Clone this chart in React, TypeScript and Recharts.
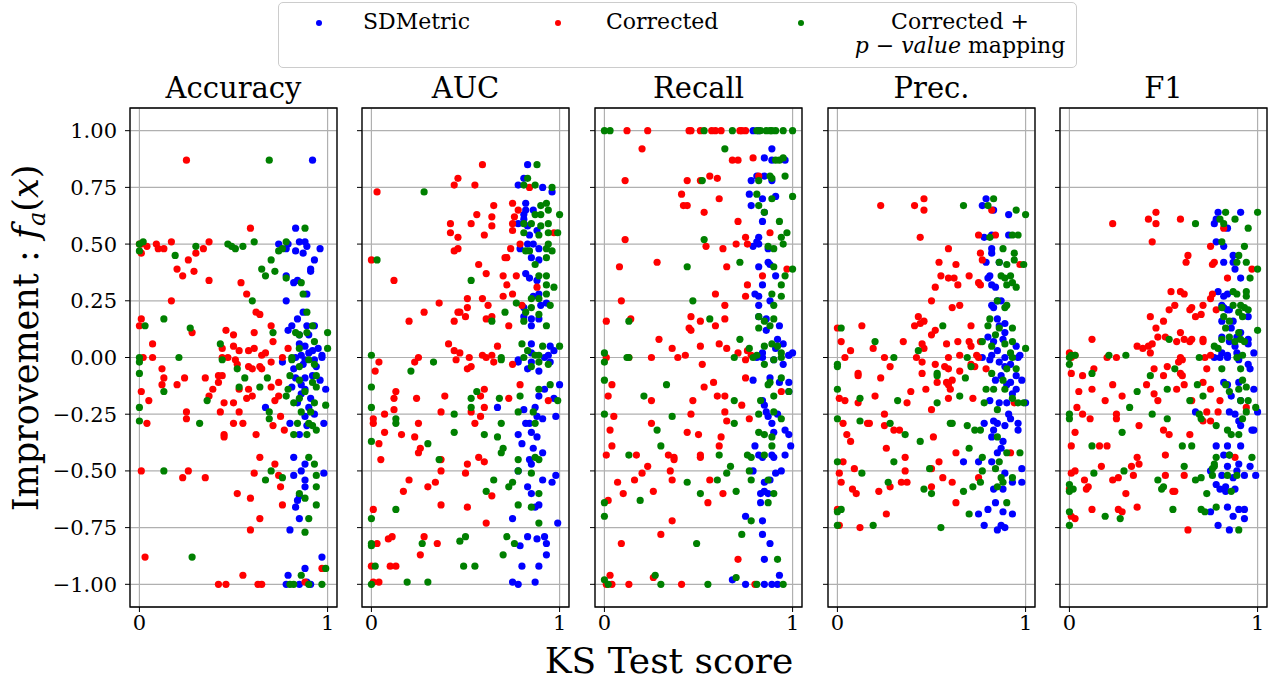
import { ScatterChart, Scatter, XAxis, YAxis, CartesianGrid, ReferenceArea, Legend } from 'recharts'

type Pt = [number, number]

// KS test score (x) vs improvement f_a(x) (y), one list per metric and method

const accSdm: Pt[] = [
  [0.92, 0.87], [0.83, 0.57], [0.74, 0.5], [0.78, 0.48], [0.79, 0.5], [0.85, 0.51], [0.83, 0.47], [0.88, 0.51],
  [0.89, 0.49], [0.87, 0.46], [0.96, 0.48], [0.93, 0.43], [0.91, 0.39], [0.91, 0.38], [0.78, 0.36], [0.82, 0.33],
  [0.84, 0.34], [0.89, 0.28], [0.78, 0.25], [0.87, 0.2], [0.84, 0.17], [0.81, 0.14], [0.89, 0.14], [0.79, 0.12],
  [0.85, 0.1], [0.9, 0.1], [0.93, 0.14], [0.88, 0.05], [0.95, 0.04], [0.92, 0.03], [0.97, 0.01], [0.83, 0],
  [0.86, 0.01], [0.85, 0.06], [0.9, 0.02], [0.94, -0.04], [0.87, -0.03], [0.92, -0.08], [0.96, -0.1],
  [0.84, -0.2], [0.9, -0.22], [0.93, -0.25], [0.86, -0.12],
  [0.76, -0.02], [0.82, -0.05], [0.88, -0.01], [0.93, -0.01], [0.97, 0], [0.83, -0.09], [0.88, -0.09],
  [0.81, -0.13], [0.88, -0.14], [0.99, -0.14], [0.86, -0.16], [0.91, -0.18], [0.67, -0.22], [0.8, -0.29],
  [0.88, -0.26], [0.89, -0.3], [0.98, -0.29], [0.85, -0.34], [0.82, -0.44], [0.88, -0.47], [0.86, -0.5],
  [0.98, -0.51], [0.82, -0.52], [0.88, -0.54], [0.88, -0.57], [0.85, -0.61], [0.84, -0.63], [0.83, -0.66],
  [0.85, -0.71], [0.8, -0.76], [0.97, -0.88], [0.88, -0.93], [0.79, -0.96], [0.78, -1], [0.85, -1],
  [0.89, -0.99], [0.91, -1],
]
const accCor: Pt[] = [
  [0.25, 0.87], [0.59, 0.57], [0, 0.5], [0.01, 0.5], [0.04, 0.49], [0.01, 0.46], [0.09, 0.5], [0.1, 0.48],
  [0.13, 0.48], [0.17, 0.51], [0.34, 0.48], [0.3, 0.46], [0.37, 0.51], [0.26, 0.43], [0.2, 0.39], [0.23, 0.36],
  [0.29, 0.38], [0.37, 0.34], [0.17, 0.25], [0.54, 0.33], [0.57, 0.28], [0.62, 0.2], [0.64, 0.19], [0.7, 0.14],
  [0.01, 0.17], [0, 0.14], [0.28, 0.11], [0.07, 0.06], [0.46, 0.12], [0.5, 0.1], [0.5, 0.05], [0.53, 0.03],
  [0.58, 0.03], [0.61, 0.04], [0.61, 0.11], [0.71, 0.07], [0.44, 0.04], [0.44, 0], [0.65, 0.01], [0.67, 0.02],
  [0.76, 0], [0.79, 0.04], [0.02, 0], [0.07, 0], [0.47, 0],
  [0.12, -0.05], [0.13, -0.09], [0.12, -0.12], [0.01, -0.15], [0.05, -0.19], [0.2, -0.12], [0.24, -0.09],
  [0.35, -0.09], [0.42, -0.08], [0.44, -0.08], [0.42, -0.11], [0.39, -0.14], [0.37, -0.17], [0.45, -0.2],
  [0.5, -0.2], [0.53, -0.24], [0.43, -0.24], [0.25, -0.24], [0.25, -0.27], [0.04, -0.29], [0.5, -0.29],
  [0.55, -0.29], [0.45, -0.34], [0.45, -0.35], [0.62, -0.34], [0.51, -0.01], [0.52, -0.03], [0.58, -0.04],
  [0.6, -0.05], [0.53, -0.14], [0.58, -0.14], [0.6, -0.17], [0.57, -0.18], [0.64, -0.04], [0.65, -0.05],
  [0.7, -0.02], [0.7, -0.13], [0.74, -0.11], [0.74, -0.17], [0.72, -0.19], [0.75, -0.26], [0.71, -0.3],
  [0.77, -0.32], [0.01, -0.5], [0.26, -0.5], [0.23, -0.53], [0.35, -0.53], [0.61, -0.51], [0.64, -0.44],
  [0.72, -0.47], [0.74, -0.52], [0.75, -0.57], [0.76, -0.65], [0.52, -0.6], [0.59, -0.62], [0.64, -0.71],
  [0.59, -0.76], [0.03, -0.88], [0.55, -0.96], [0.42, -1], [0.46, -1], [0.63, -1], [0.65, -1], [0.88, -0.99],
  [0.97, -0.93],
]
const accPval: Pt[] = [
  [0.69, 0.87], [0.88, 0.57], [0, 0.5], [0.02, 0.51], [0, 0.47], [0.19, 0.45], [0.3, 0.49], [0.47, 0.5],
  [0.49, 0.49], [0.51, 0.48], [0.55, 0.49], [0.61, 0.51], [0.7, 0.43], [0.65, 0.39], [0.67, 0.36], [0.72, 0.38],
  [0.78, 0.51], [0.76, 0.48], [0.74, 0.47], [0.78, 0.35], [0.86, 0.33], [0.87, 0.28], [0.6, 0.25], [0.89, 0.2],
  [0.13, 0.17], [0.03, 0.14], [0.27, 0.13], [0.43, 0.06], [0.71, 0.11], [0.83, 0.11], [0.85, 0.1], [0.89, 0.11],
  [0.92, 0.14], [0.93, 0.07], [1, 0.11], [1, 0.04], [0.81, 0], [0.85, 0.04], [0.21, 0], [0, 0],
  [0, -0.02], [0.44, -0.01], [0, -0.07], [0.13, -0.15], [0, -0.22], [0, -0.28], [0.32, -0.29], [0.36, -0.19],
  [0.52, -0.05], [0.56, -0.09], [0.53, -0.13], [0.64, -0.13], [0.68, -0.09], [0.69, -0.24], [0.69, -0.27],
  [0.79, -0.14], [0.78, -0.17], [0.81, -0.01], [0.85, -0.04], [0.9, -0.01], [0.93, -0.03], [0.94, -0.08],
  [0.8, -0.08], [0.85, -0.1], [0.92, -0.11], [0.94, -0.13], [0.88, -0.15], [0.85, -0.18], [0.82, -0.2],
  [0.93, -0.2], [0.99, -0.21], [0.86, -0.24], [0.91, -0.24], [0.84, -0.29], [0.9, -0.29], [0.92, -0.3],
  [0.94, -0.32], [0.82, -0.34], [0.89, -0.34], [0.13, -0.5], [0.7, -0.5], [0.67, -0.54], [0.76, -0.53],
  [0.9, -0.44], [0.93, -0.47], [0.94, -0.52], [0.94, -0.57], [0.85, -0.6], [0.88, -0.62], [0.94, -0.65],
  [0.9, -0.71], [0.88, -0.77], [0.28, -0.88], [0.86, -0.96], [0.99, -0.93], [0.8, -1], [0.82, -1], [0.9, -1],
  [0.97, -1],
]

const aucSdm: Pt[] = [
  [0.83, 0.85], [0.81, 0.79], [0.78, 0.76], [0.91, 0.75], [0.96, 0.73], [0.82, 0.68], [0.82, 0.65], [0.86, 0.65],
  [0.81, 0.63], [0.81, 0.61], [0.78, 0.59], [0.83, 0.58], [0.88, 0.56], [0.84, 0.54], [0.86, 0.5], [0.83, 0.5],
  [0.79, 0.48], [0.89, 0.48], [0.85, 0.44], [0.89, 0.43], [0.82, 0.37], [0.84, 0.35], [0.88, 0.34], [0.89, 0.28],
  [0.86, 0.27], [0.9, 0.23], [0.93, 0.24], [0.81, 0.22], [0.81, 0.18], [0.85, 0.17], [0.89, 0.17], [0.85, 0.14],
  [0.85, 0.06], [0.95, 0.05], [0.97, 0.03], [0.94, 0.01], [0.85, 0.02], [0.78, -0.01],
  [0.78, -0.02], [0.83, -0.05], [0.89, -0.06], [0.85, -0.02], [0.92, 0], [0.95, -0.02], [1, -0.12], [0.92, -0.14],
  [0.89, -0.17], [0.97, -0.18], [0.67, -0.22], [0.81, -0.23], [0.87, -0.22], [0.82, -0.29], [0.84, -0.29],
  [0.88, -0.26], [0.91, -0.27], [0.98, -0.26], [0.78, -0.34], [0.8, -0.38], [0.85, -0.33], [0.88, -0.35],
  [0.86, -0.4], [0.91, -0.42], [0.84, -0.45], [0.85, -0.47], [0.78, -0.5], [0.98, -0.52], [0.91, -0.54],
  [0.96, -0.55], [0.83, -0.57], [0.85, -0.6], [0.89, -0.65], [0.87, -0.66], [0.75, -0.71], [0.99, -0.73],
  [0.83, -0.79], [0.88, -0.8], [0.93, -0.82], [0.92, -0.79], [0.79, -0.83], [0.93, -0.87], [0.8, -0.92],
  [0.89, -0.92], [0.75, -0.99], [0.78, -1], [0.87, -0.99],
]
const aucCor: Pt[] = [
  [0.59, 0.85], [0.46, 0.79], [0.44, 0.76], [0.55, 0.76], [0.84, 0.75], [0.03, 0.73], [0.65, 0.67], [0.75, 0.68],
  [0.56, 0.63], [0.64, 0.62], [0.42, 0.59], [0.53, 0.59], [0.64, 0.58], [0.42, 0.55], [0.46, 0.53], [0.6, 0.54],
  [0.75, 0.59], [0.76, 0.62], [0.78, 0.65], [0.75, 0.56], [0.79, 0.5], [0.74, 0.48], [0.44, 0.47], [0.46, 0.48],
  [0.71, 0.44], [0.72, 0.44], [0.97, 0.55], [0, 0.43], [0.12, 0.34], [0.57, 0.41], [0.61, 0.37], [0.7, 0.36],
  [0.72, 0.32], [0.77, 0.36], [0.88, 0.31], [0.51, 0.26], [0.59, 0.26], [0.7, 0.27], [0.75, 0.28], [0.36, 0.24],
  [0.28, 0.2], [0.46, 0.2], [0.47, 0.2], [0.51, 0.22], [0.62, 0.23], [0.8, 0.23], [0.2, 0.16], [0.44, 0.16],
  [0.5, 0.18], [0.61, 0.17], [0.64, 0.18], [0.73, 0.14], [0.41, 0.06], [0.44, 0.03], [0.47, 0.02], [0.52, 0],
  [0.59, 0.01], [0.61, 0], [0.64, 0.01], [0.67, 0.05], [0.25, 0],
  [0.04, -0.02], [0.23, -0.02], [0.45, -0.01], [0.51, -0.05], [0.53, -0.04], [0.65, -0.02], [0.75, -0.03],
  [0.02, -0.06], [0.13, -0.15], [0.12, -0.18], [0.24, -0.18], [0.39, -0.17], [0.6, -0.14], [0.58, -0.17],
  [0.73, -0.18], [0.79, -0.12], [0.94, -0.19], [0.12, -0.23], [0.07, -0.25], [0.01, -0.27], [0.01, -0.29],
  [0.25, -0.29], [0.37, -0.24], [0.53, -0.24], [0.6, -0.22], [0.58, -0.26], [0.55, -0.29], [0.07, -0.33],
  [0.16, -0.34], [0.23, -0.35], [0.04, -0.38], [0.26, -0.4], [0.25, -0.42], [0.05, -0.45], [0.37, -0.45],
  [0.51, -0.47], [0.57, -0.44], [0.6, -0.46], [0.37, -0.5], [0.5, -0.51], [0.2, -0.54], [0.34, -0.55],
  [0.3, -0.57], [0.17, -0.59], [0.64, -0.61], [0.37, -0.65], [0.51, -0.66], [0.01, -0.67], [0.61, -0.73],
  [0.03, -0.82], [0.09, -0.8], [0.11, -0.79], [0.28, -0.79], [0.35, -0.82], [0.26, -0.87], [0, -0.92],
  [0.1, -0.92], [0.13, -0.92], [0.01, -0.99], [0.04, -0.99],
]
const aucPval: Pt[] = [
  [0.88, 0.85], [0.83, 0.79], [0.81, 0.76], [0.87, 0.76], [0.96, 0.75], [0.28, 0.73], [0.9, 0.67], [0.93, 0.68],
  [0.87, 0.63], [0.94, 0.65], [1, 0.63], [0.9, 0.63], [0.94, 0.59], [0.81, 0.59], [0.85, 0.59], [0.9, 0.58],
  [0.94, 0.55], [0.99, 0.55], [0.81, 0.55], [0.89, 0.54], [0.82, 0.47], [0.94, 0.5], [0.96, 0.47], [0.93, 0.48],
  [0.84, 0.47], [0.93, 0.44], [0.03, 0.43], [0.87, 0.41], [0.89, 0.36], [0.93, 0.36], [0.93, 0.32], [0.97, 0.31],
  [0.53, 0.34], [0.85, 0.26], [0.89, 0.26], [0.93, 0.28], [0.95, 0.23], [0.77, 0.24], [0.71, 0.2], [0.82, 0.2],
  [0.85, 0.22], [0.89, 0.19], [0.81, 0.16], [0.93, 0.14], [0.64, 0.16], [0.8, 0.06], [0.83, 0.03], [0.91, 0.05],
  [1, 0.05], [0.87, 0.01], [0.89, 0.01], [0.69, 0], [0, 0.01],
  [0.33, -0.02], [0.21, -0.06], [0, -0.13], [0, -0.22], [0.13, -0.27], [0.13, -0.29], [0, -0.37], [0.3, -0.38],
  [0.44, -0.25], [0.44, -0.33], [0.36, -0.45], [0.53, -0.18], [0.56, -0.15], [0.53, -0.22], [0.68, -0.18],
  [0.69, -0.29], [0.6, -0.34], [0.67, -0.35], [0.7, -0.4], [0.69, -0.42], [0.65, -0.54], [0.61, -0.59],
  [0.75, -0.55], [0.73, -0.57], [0.78, -0.5], [0.78, -0.45], [0.85, -0.51], [0.89, -0.6], [0.85, -0.66],
  [0.78, -0.65], [0.89, -0.73], [0.13, -0.67], [0, -0.71], [0, -0.82], [0, -0.83], [0.27, -0.82], [0.47, -0.81],
  [0.5, -0.79], [0.72, -0.79], [0.76, -0.82], [0.7, -0.87], [0.02, -0.92], [0.49, -0.92], [0.55, -0.92],
  [0.19, -0.99], [0.3, -0.99], [0, -1], [0.79, -0.17], [0.89, -0.14], [0.95, -0.12], [0.99, -0.19], [0.78, -0.24],
  [0.86, -0.24], [0.87, -0.29], [0.89, -0.45], [0.87, -0.44], [0.81, 0], [0.85, -0.04], [0.89, -0.02],
  [0.94, -0.03], [0.69, -0.01],
]

const recSdm: Pt[] = [
  [0.79, 1], [0.82, 1],
  [0.89, 0.92], [0.85, 0.88], [0.89, 0.87], [0.96, 0.87], [0.81, 0.8], [0.78, 0.78], [0.85, 0.8], [0.89, 0.78],
  [0.77, 0.72], [0.84, 0.7], [0.91, 0.71], [0.78, 0.67], [0.85, 0.64], [0.84, 0.6], [0.82, 0.53], [0.81, 0.51],
  [0.79, 0.49], [0.82, 0.5], [0.87, 0.48], [0.87, 0.42], [0.82, 0.4], [0.88, 0.41], [0.91, 0.36], [0.84, 0.32],
  [0.8, 0.28], [0.82, 0.27], [0.88, 0.25], [0.82, 0.23], [0.82, 0.18], [0.86, 0.17], [0.93, 0.14], [0.86, 0.12],
  [0.92, 0.08], [0.95, 0.06], [0.84, 0.02], [0.91, 0.04], [0.98, 0.01], [1, 0.02], [0.81, 0],
  [0.84, 0], [0.9, -0.01], [0.98, 0.01], [0.95, -0.03], [0.79, -0.1], [0.88, -0.09], [0.93, -0.11], [0.98, -0.11],
  [0.84, -0.19], [0.85, -0.21], [0.98, -0.15], [0.86, -0.24], [0.92, -0.25], [0.87, -0.26], [0.89, -0.29],
  [0.9, -0.33], [0.96, -0.32], [0.98, -0.34], [0.8, -0.39], [0.99, -0.39], [0.82, -0.43], [0.84, -0.44],
  [0.89, -0.43], [0.9, -0.44], [0.96, -0.43], [0.79, -0.5], [0.91, -0.51], [0.94, -0.5], [0.85, -0.55],
  [0.88, -0.54], [0.83, -0.6], [0.85, -0.59], [0.87, -0.6], [0.83, -0.64], [0.75, -0.7], [0.84, -0.72],
  [0.84, -0.78], [0.88, -0.82], [0.85, -0.89], [0.93, -0.96], [0.68, -0.98], [0.75, -1], [0.85, -1], [0.89, -1],
  [0.92, -1],
]
const recCor: Pt[] = [
  [0.12, 1], [0.23, 1], [0.45, 1], [0.46, 1], [0.51, 1], [0.57, 1], [0.59, 1], [0.62, 1], [0.72, 1], [0.73, 1],
  [0.75, 1],
  [0.2, 0.92], [0.68, 0.87], [0.71, 0.87], [0.79, 0.88], [0.11, 0.78], [0.44, 0.78], [0.51, 0.78], [0.56, 0.8],
  [0.6, 0.79], [0.82, 0.8], [0.41, 0.72], [0.61, 0.7], [0.42, 0.67], [0.44, 0.67], [0.53, 0.64], [0.71, 0.6],
  [0.88, 0.55], [0.11, 0.52], [0.54, 0.49], [0.63, 0.48], [0.7, 0.5], [0.75, 0.53], [0.76, 0.5], [0.28, 0.42],
  [0.08, 0.4], [0.65, 0.4], [0.97, 0.39], [0.84, 0.36], [0.76, 0.32], [0.59, 0.28], [0.75, 0.27], [0.09, 0.25],
  [0.64, 0.23], [0.14, 0.17], [0.01, 0.16], [0.46, 0.18], [0.51, 0.16], [0.64, 0.17], [0.59, 0.14], [0.45, 0.13],
  [0.46, 0.12], [0.29, 0.08], [0.36, 0.04], [0.51, 0.05], [0.61, 0.06], [0.65, 0.04], [0.71, 0.02], [0.76, 0.03],
  [0.78, 0.01], [0.43, 0.01], [0.39, 0], [0.25, 0], [0.01, 0],
  [0.13, 0], [0.52, -0.03], [0.75, -0.01], [0.75, -0.09], [0.04, -0.12], [0.02, -0.17], [0.25, -0.19],
  [0.47, -0.19], [0.53, -0.13], [0.58, -0.11], [0.6, -0.17], [0.64, -0.17], [0.73, -0.21], [0.94, -0.15],
  [0.05, -0.26], [0.46, -0.25], [0.64, -0.24], [0.65, -0.28], [0.77, -0.27], [0.25, -0.29], [0.03, -0.32],
  [0.44, -0.33], [0.5, -0.34], [0.62, -0.35], [0.04, -0.39], [0.61, -0.39], [0.01, -0.43], [0.17, -0.43],
  [0.34, -0.43], [0.37, -0.44], [0.37, -0.45], [0.51, -0.44], [0.51, -0.43], [0.23, -0.48], [0.2, -0.51],
  [0.35, -0.5], [0.07, -0.55], [0.16, -0.54], [0.36, -0.54], [0.56, -0.54], [0.1, -0.6], [0.26, -0.59],
  [0.63, -0.6], [0.55, -0.64], [0.02, -0.63], [0.36, -0.72], [0.3, -0.78], [0.09, -0.82], [0.71, -0.89],
  [0.03, -0.96], [0.01, -1], [0.04, -1], [0.13, -1], [0.26, -0.97], [0.41, -1], [0.8, -1],
]
const recPval: Pt[] = [
  [0, 1], [0.03, 1], [0.53, 1], [0.68, 1], [0.81, 1], [0.83, 1], [0.86, 1], [0.88, 1], [0.89, 1], [0.91, 1],
  [0.95, 1], [1, 1],
  [0.64, 0.92], [0.91, 0.87], [0.95, 0.88], [0.93, 0.87], [0.52, 0.78], [0.82, 0.78], [0.88, 0.8], [0.89, 0.79],
  [0.96, 0.8], [0.81, 0.72], [0.89, 0.7], [1, 0.71], [0.82, 0.67], [0.85, 0.64], [0.93, 0.6], [0.97, 0.55],
  [0.94, 0.53], [0.53, 0.52], [0.87, 0.49], [0.9, 0.48], [0.95, 0.5], [0.72, 0.42], [0.44, 0.4], [0.9, 0.4],
  [1, 0.39], [0.96, 0.36], [0.94, 0.32], [0.89, 0.28], [0.94, 0.27], [0.47, 0.25], [0.9, 0.23], [0.13, 0.16],
  [0.56, 0.17], [0.82, 0.18], [0.85, 0.16], [0.82, 0.13], [0.88, 0.14], [0.9, 0.17], [0.72, 0.08], [0.77, 0.04],
  [0.85, 0.05], [0.89, 0.06], [0.92, 0.05], [0.94, 0.02], [0, 0.02], [0.12, 0], [0.69, 0], [0.81, 0.01],
  [0, -0.02], [0.13, 0], [0.79, 0], [0.85, -0.03], [0, -0.1], [0.33, -0.12], [0.21, -0.17], [0.69, -0.19],
  [0, -0.25], [0.36, -0.26], [0.69, -0.29], [0.28, -0.32], [0.3, -0.39], [0.13, -0.43], [0.61, -0.43],
  [0.65, -0.51], [0.67, -0.48], [0.76, -0.43], [0.78, -0.44], [0.77, -0.5], [0.78, -0.54], [0.6, -0.54],
  [0.44, -0.55], [0.51, -0.6], [0.7, -0.59], [0.19, -0.63], [0, -0.64], [0, -0.7], [0.78, -0.72], [0.73, -0.78],
  [0.49, -0.82], [0.92, -0.89], [0.27, -0.96], [0.3, -1], [0.55, -1], [0.7, -0.97], [0.81, -1], [0.95, -1],
  [0, -0.98], [0.02, -1], [0.87, -0.12], [0.88, -0.11], [0.94, -0.09], [0.98, -0.15], [0.9, -0.17],
  [0.83, -0.19], [0.82, -0.25], [0.9, -0.24], [0.94, -0.27], [0.82, -0.33], [0.85, -0.34], [0.89, -0.35],
  [0.89, -0.39], [0.85, -0.43], [0.87, -0.54], [0.87, -0.64], [0.9, -0.6], [0.9, -0.01], [0.94, 0],
]

const preSdm: Pt[] = [
  [0.79, 0.7], [0.77, 0.67], [0.83, 0.65], [0.91, 0.63], [0.78, 0.53], [0.82, 0.54], [0.91, 0.54], [0.82, 0.48],
  [0.82, 0.46], [0.79, 0.42], [0.86, 0.42], [0.81, 0.36], [0.8, 0.35], [0.82, 0.32], [0.84, 0.31], [0.85, 0.25],
  [0.87, 0.25], [0.82, 0.23], [0.83, 0.22], [0.85, 0.17], [0.89, 0.15], [0.86, 0.14], [0.89, 0.11], [0.8, 0.09],
  [0.83, 0.07], [0.88, 0.08], [0.95, 0.05], [0.85, 0.03], [0.97, 0.01], [0.82, 0.01], [0.89, 0],
  [0.77, 0], [0.81, -0.01], [0.86, -0.02], [0.89, -0.04], [0.96, 0], [0.92, -0.03], [0.95, -0.08], [0.98, -0.1],
  [0.92, -0.11], [0.95, -0.14], [0.81, -0.19], [0.86, -0.2], [0.9, -0.2], [1, -0.2], [0.91, -0.25],
  [0.92, -0.27], [0.83, -0.28], [0.85, -0.29], [0.89, -0.3], [0.96, -0.29], [0.96, -0.32], [0.78, -0.29],
  [0.83, -0.32], [0.82, -0.35], [0.88, -0.37], [0.87, -0.4], [0.85, -0.42], [0.67, -0.46], [0.75, -0.46],
  [0.82, -0.46], [0.89, -0.51], [0.98, -0.49], [0.98, -0.55], [0.93, -0.55], [0.83, -0.58], [0.88, -0.58],
  [0.84, -0.64], [0.8, -0.67], [0.75, -0.69], [0.88, -0.68], [0.93, -0.69], [0.78, -0.74], [0.85, -0.76],
  [0.87, -0.74], [0.89, -0.75], [0.87, -0.08], [0.9, -0.12], [0.84, -0.1], [0.93, -0.16],
]
const preCor: Pt[] = [
  [0.46, 0.7], [0.23, 0.67], [0.41, 0.67], [0.46, 0.65], [0.82, 0.65], [0.44, 0.53], [0.75, 0.54], [0.84, 0.54],
  [0.59, 0.48], [0.76, 0.46], [0.77, 0.43], [0.54, 0.42], [0.63, 0.41], [0.7, 0.36], [0.55, 0.36], [0.59, 0.35],
  [0.62, 0.35], [0.64, 0.32], [0.52, 0.31], [0.75, 0.33], [0.76, 0.32], [0.97, 0.41], [0.5, 0.25], [0.61, 0.22],
  [0.65, 0.23], [0.43, 0.18], [0.44, 0.15], [0.46, 0.16], [0.41, 0.14], [0.13, 0.14], [0, 0.13], [0.02, 0.07],
  [0.07, 0.03], [0.19, 0.04], [0.35, 0.07], [0.45, 0.06], [0.46, 0.04], [0.52, 0.12], [0.5, 0.1], [0.58, 0.06],
  [0.64, 0.07], [0.65, 0.01], [0.7, 0.07], [0.71, 0.05], [0.76, 0.07], [0.71, 0.14], [0.74, 0.01], [0.04, 0],
  [0.25, 0], [0.42, 0], [0.59, 0],
  [0.45, -0.02], [0.52, -0.03], [0.57, -0.04], [0.59, -0.05], [0.65, -0.06], [0.71, -0.03], [0.73, -0.04],
  [0.75, 0], [0.28, -0.04], [0.23, -0.09], [0.11, -0.07], [0.11, -0.08], [0.45, -0.07], [0.47, -0.14],
  [0.53, -0.11], [0.58, -0.11], [0.59, -0.12], [0.61, -0.1], [0.6, -0.14], [0.59, -0.18], [0.72, -0.18],
  [0.79, -0.05], [0.01, -0.18], [0.04, -0.19], [0.11, -0.2], [0.2, -0.17], [0.37, -0.2], [0.39, -0.15],
  [0.5, -0.23], [0.25, -0.25], [0.03, -0.29], [0.16, -0.29], [0.17, -0.29], [0.25, -0.3], [0.3, -0.32],
  [0.33, -0.32], [0.05, -0.34], [0.07, -0.37], [0.51, -0.35], [0.26, -0.4], [0.63, -0.42], [0.03, -0.46],
  [0.36, -0.44], [0.54, -0.46], [0.01, -0.51], [0.09, -0.49], [0.36, -0.5], [0.5, -0.49], [0.02, -0.55],
  [0.08, -0.58], [0.1, -0.6], [0.22, -0.59], [0.28, -0.57], [0.34, -0.55], [0.37, -0.55], [0.5, -0.57],
  [0.56, -0.53], [0.61, -0.55], [0.63, -0.64], [0.26, -0.69], [0, -0.67], [0.01, -0.74], [0.12, -0.75],
  [0.75, -0.53], [0.92, -0.42], [0.94, -0.2],
]
const prePval: Pt[] = [
  [0.83, 0.7], [0.67, 0.67], [0.8, 0.67], [0.95, 0.65], [1, 0.63], [0.93, 0.54], [0.96, 0.54], [0.81, 0.53],
  [0.88, 0.48], [0.94, 0.46], [0.94, 0.43], [0.99, 0.41], [0.86, 0.42], [0.9, 0.41], [0.87, 0.36], [0.89, 0.35],
  [0.92, 0.36], [0.93, 0.33], [0.95, 0.31], [0.9, 0.32], [0.85, 0.25], [0.9, 0.23], [0.89, 0.22], [0.56, 0.14],
  [0.81, 0.17], [0.8, 0.14], [0.84, 0.1], [0.86, 0.13], [0.93, 0.13], [0.89, 0.06], [0.93, 0.07], [1, 0.04],
  [0.77, 0.07], [0.82, 0.05], [0.02, 0.13], [0.2, 0.07], [0.43, 0.03], [0.3, 0], [0.69, 0], [0.92, 0.02],
  [0.93, 0],
  [0, -0.03], [0, -0.04], [0.53, -0.07], [0.53, -0.08], [0, -0.14], [0.12, -0.18], [0.32, -0.19], [0.53, -0.2],
  [0.65, -0.17], [0.68, -0.09], [0.71, -0.04], [0.79, -0.14], [0.78, -0.2], [0.82, -0.07], [0.83, -0.14],
  [0.88, -0.1], [0.89, -0.14], [0.9, -0.05], [0.95, -0.05], [0.93, -0.18], [0.96, -0.2], [0.99, -0.2],
  [0.85, -0.23], [0, -0.27], [0.12, -0.28], [0.28, -0.29], [0.36, -0.34], [0.44, -0.37], [0.6, -0.29],
  [0.61, -0.29], [0.69, -0.3], [0.73, -0.32], [0.76, -0.32], [0.85, -0.35], [0.7, -0.4], [0.9, -0.42],
  [0.97, -0.42], [0, -0.46], [0.3, -0.46], [0.77, -0.44], [0.86, -0.46], [0.13, -0.51], [0.49, -0.49],
  [0.77, -0.5], [0.84, -0.49], [0.93, -0.53], [0.87, -0.53], [0.27, -0.55], [0.46, -0.58], [0.5, -0.6],
  [0.67, -0.59], [0.72, -0.57], [0.76, -0.55], [0.88, -0.55], [0.85, -0.57], [0.9, -0.64], [0, -0.68],
  [0.02, -0.67], [0.7, -0.69], [0, -0.74], [0.19, -0.74], [0.55, -0.75],
]

const f1Sdm: Pt[] = [
  [0.79, 0.64], [0.91, 0.64], [0.78, 0.61], [0.77, 0.59], [0.84, 0.57], [0.78, 0.51], [0.82, 0.49], [0.87, 0.45],
  [0.82, 0.42], [0.87, 0.42], [0.88, 0.39], [0.91, 0.35], [0.79, 0.29], [0.82, 0.27], [0.84, 0.28], [0.81, 0.23],
  [0.82, 0.22], [0.85, 0.21], [0.84, 0.21], [0.95, 0.18], [0.87, 0.16], [0.81, 0.16], [0.86, 0.13], [0.91, 0.11],
  [0.81, 0.09], [0.89, 0.09], [0.85, 0.07], [0.88, 0.05], [0.95, 0.08], [0.95, 0.06], [0.98, 0.02], [0.81, 0.02],
  [0.84, 0.01], [0.89, 0.02], [0.77, 0],
  [0.8, 0], [0.84, 0], [0.9, -0.01], [0.95, -0.03], [0.82, -0.11], [0.84, -0.12], [0.9, -0.11], [0.96, -0.05],
  [0.98, -0.14], [0.86, -0.17], [0.91, -0.19], [1, -0.24], [0.67, -0.24], [0.85, -0.24], [0.88, -0.25],
  [0.9, -0.28], [0.91, -0.3], [0.97, -0.32], [0.98, -0.32], [0.78, -0.39], [0.84, -0.39], [0.91, -0.39],
  [0.82, -0.43], [0.85, -0.43], [0.9, -0.47], [0.89, -0.5], [0.96, -0.48], [0.75, -0.5], [0.81, -0.52],
  [0.84, -0.48], [0.93, -0.52], [0.99, -0.52], [0.87, -0.53], [0.78, -0.56], [0.8, -0.58], [0.83, -0.57],
  [0.83, -0.59], [0.88, -0.58], [0.75, -0.68], [0.84, -0.66], [0.9, -0.67], [0.93, -0.67], [0.87, -0.7],
  [0.93, -0.71], [0.79, -0.74], [0.85, -0.76],
]
const f1Cor: Pt[] = [
  [0.46, 0.64], [0.23, 0.59], [0.42, 0.61], [0.46, 0.59], [0.59, 0.61], [0.82, 0.57], [0.44, 0.51], [0.75, 0.49],
  [0.63, 0.45], [0.62, 0.42], [0.76, 0.41], [0.77, 0.42], [0.97, 0.39], [0.84, 0.35], [0.54, 0.29], [0.59, 0.29],
  [0.61, 0.28], [0.75, 0.26], [0.76, 0.28], [0.56, 0.23], [0.53, 0.21], [0.65, 0.22], [0.64, 0.21], [0.71, 0.23],
  [0.7, 0.19], [0.67, 0.18], [0.78, 0.21], [0.43, 0.18], [0.5, 0.16], [0.46, 0.13], [0.47, 0.09], [0.51, 0.09],
  [0.59, 0.11], [0.57, 0.07], [0.61, 0.08], [0.64, 0.07], [0.65, 0.08], [0.71, 0.08], [0.71, 0.07], [0.12, 0.08],
  [0.36, 0.05], [0.39, 0.04], [0.42, 0.05], [0.44, 0.06], [0.43, 0.02], [0, 0.02], [0.03, 0.01], [0.25, 0],
  [0.59, 0], [0.75, 0.01],
  [0.01, 0], [0.2, 0], [0.58, -0.02], [0.6, -0.01], [0.72, 0], [0.73, -0.05], [0.01, -0.07], [0.07, -0.08],
  [0.13, -0.05], [0.12, -0.14], [0.05, -0.15], [0.04, -0.22], [0.07, -0.25], [0.11, -0.27], [0.19, -0.19],
  [0.23, -0.12], [0.28, -0.17], [0.25, -0.25], [0.25, -0.27], [0.41, -0.12], [0.45, -0.05], [0.45, -0.16],
  [0.47, -0.19], [0.5, -0.08], [0.52, -0.04], [0.57, -0.14], [0.59, -0.07], [0.6, -0.08], [0.61, -0.12],
  [0.65, -0.19], [0.71, -0.11], [0.75, -0.14], [0.8, -0.19], [0.73, -0.24], [0.71, -0.28], [0.75, -0.28],
  [0.79, -0.24], [0.37, -0.3], [0.5, -0.32], [0.53, -0.34], [0.64, -0.34], [0.03, -0.33], [0.01, -0.39],
  [0.16, -0.39], [0.2, -0.39], [0.51, -0.43], [0.36, -0.44], [0.37, -0.47], [0.33, -0.48], [0.17, -0.48],
  [0.34, -0.52], [0.01, -0.51], [0.03, -0.5], [0.08, -0.54], [0.1, -0.57], [0.09, -0.58], [0.23, -0.54],
  [0.26, -0.53], [0.3, -0.6], [0.51, -0.52], [0.61, -0.52], [0.55, -0.59], [0.56, -0.59], [0, -0.58],
  [0.12, -0.67], [0.26, -0.67], [0.28, -0.68], [0.36, -0.66], [0.01, -0.7], [0.03, -0.71], [0.63, -0.76],
  [0.88, -0.44], [0.94, -0.22],
]
const f1Pval: Pt[] = [
  [0.83, 0.64], [0.88, 0.61], [1, 0.64], [0.67, 0.59], [0.8, 0.61], [0.82, 0.59], [0.95, 0.57], [0.81, 0.51],
  [0.93, 0.49], [0.9, 0.45], [0.89, 0.42], [0.94, 0.42], [1, 0.39], [0.96, 0.35], [0.87, 0.29], [0.89, 0.28],
  [0.94, 0.29], [0.94, 0.27], [0.87, 0.23], [0.91, 0.23], [0.93, 0.22], [0.9, 0.2], [0.95, 0.21], [0.92, 0.18],
  [0.81, 0.22], [0.82, 0.18], [0.85, 0.16], [0.83, 0.13], [0.9, 0.11], [1, 0.12], [0.85, 0.09], [0.81, 0.08],
  [0.91, 0.08], [0.93, 0.07], [0.53, 0.08], [0.77, 0.05], [0.79, 0.04], [0.88, 0.07], [0.92, 0.01], [0.89, 0],
  [0.01, 0.01], [0.03, 0.01], [0.21, 0.01], [0.3, 0.01], [0.69, 0],
  [0, 0], [0, -0.03], [0.12, -0.07], [0.43, -0.08], [0.56, -0.05], [0.52, -0.14], [0.36, -0.15], [0.32, -0.22],
  [0.44, -0.25], [0.52, -0.27], [0.64, -0.19], [0.71, -0.17], [0.68, -0.12], [0.69, -0.25], [0.7, -0.27],
  [0.78, -0.3], [0, -0.25], [0, -0.27], [0.28, -0.33], [0.12, -0.39], [0.6, -0.39], [0.65, -0.39],
  [0.78, -0.44], [0.77, -0.47], [0.76, -0.49], [0.76, -0.52], [0.61, -0.48], [0.7, -0.53], [0.67, -0.54],
  [0.73, -0.6], [0.29, -0.5], [0.13, -0.51], [0.47, -0.54], [0.49, -0.58], [0.5, -0.57], [0, -0.56],
  [0, -0.59], [0.02, -0.58], [0, -0.68], [0, -0.74], [0.19, -0.7], [0.27, -0.71], [0.55, -0.67], [0.7, -0.67],
  [0.72, -0.68], [0.78, -0.66], [0.9, -0.76], [0.81, -0.05], [0.83, -0.12], [0.85, -0.15], [0.91, -0.05],
  [0.92, -0.1], [0.9, -0.14], [0.94, -0.13], [0.91, -0.19], [0.95, -0.19], [0.99, -0.22], [0.94, -0.24],
  [0.92, -0.27], [0.84, -0.32], [0.86, -0.34], [0.9, -0.34], [0.85, -0.43], [0.97, -0.44], [0.77, -0.48],
  [0.84, -0.52], [0.89, -0.52], [0.86, -0.59],
]

const TITLES = ['Accuracy', 'AUC', 'Recall', 'Prec.', 'F1']
const SDMETRIC = [accSdm, aucSdm, recSdm, preSdm, f1Sdm]
const CORRECTED = [accCor, aucCor, recCor, preCor, f1Cor]
const PVALUE = [accPval, aucPval, recPval, prePval, f1Pval]
const SERIES_NAMES = ['SDMetric', 'Corrected', 'Corrected + p − value mapping']
const SERIES_COLORS = ['#0000ff', '#ff0000', '#008000']
const Y_TICKS = [-1, -0.75, -0.5, -0.25, 0, 0.25, 0.5, 0.75, 1]
const X_TICKS = [0, 1]

const FONT = '"DejaVu Serif", serif'
const PLOT_W = 207
const PLOT_TOP = 108
const PLOT_BOTTOM = 607
const CHART_H = 686
const PANEL_LEFT = [130, 362, 595, 828, 1060]

const toXY = (pts: Pt[]) => pts.map(([x, y]) => ({ x, y }))
const fmtY = (v: number) => (v < 0 ? '\u2212' + Math.abs(v).toFixed(2) : v.toFixed(2))

const dot = (color: string) => (props: any) =>
  <circle cx={props.cx} cy={props.cy} r={3.6} fill={color} />

function LegendBox(props: any) {
  const items: any[] = props.payload ?? []
  const colorOf = (name: string, k: number) =>
    items.find((it) => it.value === name)?.color ?? SERIES_COLORS[k]
  const dotX = [40, 279, 522]
  return (
    <div style={{
      position: 'relative', width: 799, height: 66, boxSizing: 'border-box',
      border: '1.5px solid #cccccc', borderRadius: 5, background: '#fff',
      fontFamily: FONT, fontSize: 22, color: '#000', lineHeight: '24px',
    }}>
      {SERIES_NAMES.map((name, k) => (
        <span key={k} style={{
          position: 'absolute', left: dotX[k] - 3, top: 17, width: 6, height: 6,
          borderRadius: 3, background: colorOf(name, k),
        }} />
      ))}
      <span style={{ position: 'absolute', left: 84, top: 7 }}>{SERIES_NAMES[0]}</span>
      <span style={{ position: 'absolute', left: 327, top: 7 }}>{SERIES_NAMES[1]}</span>
      <div style={{ position: 'absolute', left: 571, top: 7, width: 220, textAlign: 'center' }}>
        <div>Corrected +</div>
        <div><i>p</i> − <i>value</i> mapping</div>
      </div>
    </div>
  )
}

function Panel({ i }: { i: number }) {
  const first = i === 0
  const yw = first ? 130 : 8
  const sets = [SDMETRIC[i], CORRECTED[i], PVALUE[i]]
  return (
    <div style={{ position: 'absolute', left: PANEL_LEFT[i] - yw, top: 0 }}>
      <ScatterChart width={yw + PLOT_W + 3} height={CHART_H}
        margin={{ top: PLOT_TOP, right: 3, bottom: 0, left: 0 }}>
        <CartesianGrid stroke="#b0b0b0" strokeWidth={1.2} />
        <XAxis type="number" dataKey="x" domain={[-0.05, 1.05]} ticks={X_TICKS} allowDataOverflow
          height={CHART_H - PLOT_BOTTOM} tickSize={5} tickMargin={3} axisLine={false}
          tickLine={{ stroke: '#000' }}
          tick={{ fontFamily: FONT, fontSize: 21, fill: '#000' }} />
        <YAxis type="number" dataKey="y" domain={[-1.1, 1.1]} ticks={Y_TICKS} allowDataOverflow
          width={yw} tickSize={5} tickMargin={8} axisLine={false}
          tickLine={{ stroke: '#000' }}
          tickFormatter={first ? fmtY : () => ''}
          tick={{ fontFamily: FONT, fontSize: 21, fill: '#000' }} />
        <ReferenceArea x1={-0.05} x2={1.05} y1={-1.1} y2={1.1} fill="none" stroke="#000" strokeWidth={1.3} />
        {sets.map((pts, k) => (
          <Scatter key={k} name={SERIES_NAMES[k]} data={toXY(pts)} fill={SERIES_COLORS[k]}
            shape={dot(SERIES_COLORS[k])} isAnimationActive={false} />
        ))}
        {first && (
          <Legend layout="horizontal" verticalAlign="middle" align="center" content={LegendBox}
            itemSorter={null as any}
            wrapperStyle={{ position: 'absolute', left: 278, top: 2, width: 799, height: 66 }} />
        )}
      </ScatterChart>
    </div>
  )
}

export default function App() {
  return (
    <div style={{ position: 'relative', width: 1284, height: 686, background: '#fff', overflow: 'hidden' }}>
      <style>{'body{margin:0}'}</style>
      {TITLES.map((_, i) => <Panel key={i} i={i} />)}
      <svg width={1284} height={686} style={{ position: 'absolute', left: 0, top: 0, pointerEvents: 'none' }}
        fontFamily={FONT}>
        {TITLES.map((t, i) => (
          <text key={t} x={PANEL_LEFT[i] + PLOT_W / 2} y={98} textAnchor="middle" fontSize={29}>{t}</text>
        ))}
        <text x={669} y={673} textAnchor="middle" fontSize={36}>KS Test score</text>
        <text transform="translate(38,338) rotate(-90)" textAnchor="middle" fontSize={35}>
          Improvement : <tspan fontStyle="italic">f</tspan>
          <tspan fontStyle="italic" fontSize={24} dy={7}>a</tspan>
          <tspan dy={-7}>(</tspan><tspan fontStyle="italic">x</tspan>)
        </text>
      </svg>
    </div>
  )
}
